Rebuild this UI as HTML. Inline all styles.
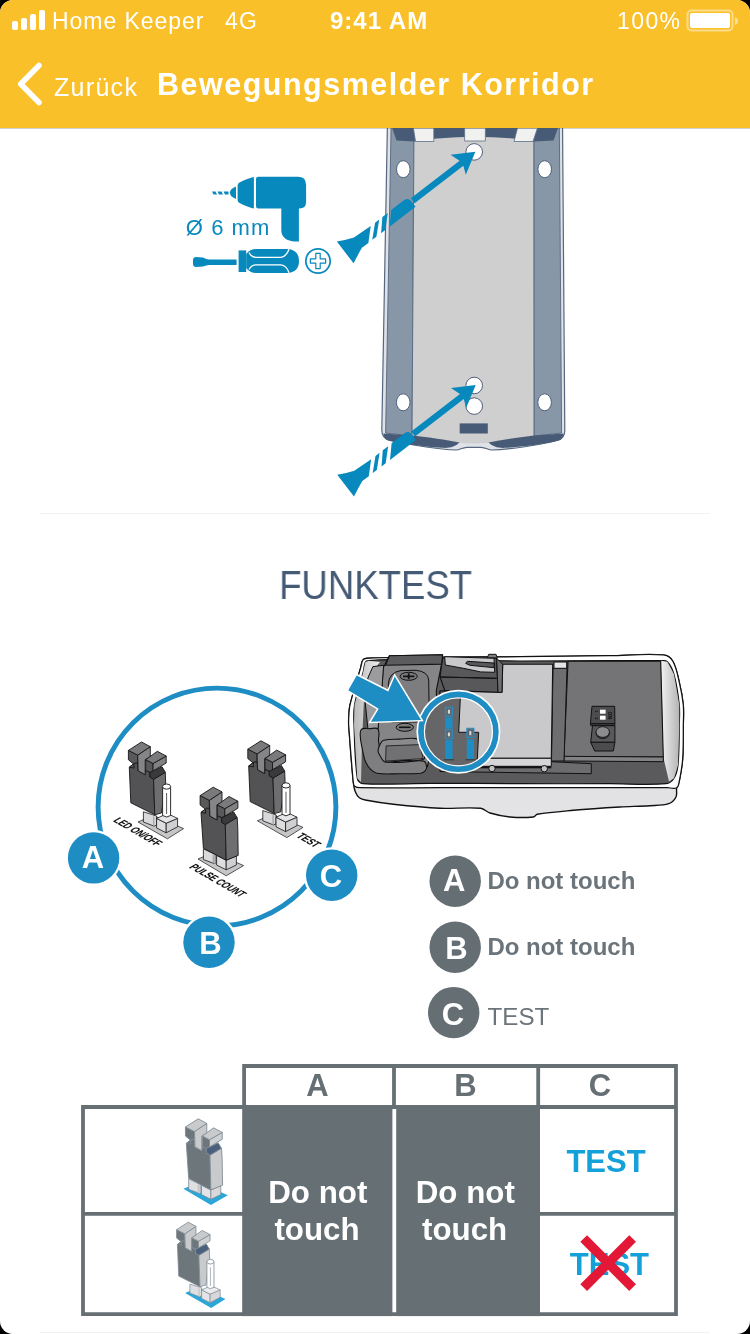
<!DOCTYPE html>
<html lang="de">
<head>
<meta charset="utf-8">
<title>Bewegungsmelder Korridor</title>
<style>
*{box-sizing:border-box;margin:0;padding:0}
html,body{width:750px;height:1334px;overflow:hidden;background:#000}
body{font-family:"Liberation Sans",sans-serif;position:relative}
#screen{position:absolute;left:0;top:0;width:750px;height:1334px;background:#fff;border-radius:13px;overflow:hidden}
#hdr{position:absolute;left:0;top:0;width:750px;height:128px;background:#fac02a;box-shadow:0 .5px 0 rgba(90,90,90,.55);z-index:5}
.t{position:absolute;white-space:nowrap;line-height:1;color:#fff;will-change:transform}
#art{position:absolute;left:0;top:0;width:750px;height:1334px;z-index:1;will-change:transform}
#hart{position:absolute;left:0;top:0;width:750px;height:128px;z-index:6}
svg text{font-family:"Liberation Sans",sans-serif}
#div1{position:absolute;left:40px;top:513px;width:670px;height:1px;background:#f1f1f1}
#div2{position:absolute;left:40px;top:1332px;width:670px;height:1px;background:#f1f1f1}
#funk{will-change:transform;position:absolute;left:0;width:750px;text-align:center;top:565px;font-size:40px;line-height:1;color:#455a75;white-space:nowrap;transform:translateX(.6px) scaleX(.914);transform-origin:375px 0}
</style>
</head>
<body>
<div id="screen">
<div id="hdr">
  <span class="t" id="carrier" style="left:51.5px;top:10px;font-size:23px;letter-spacing:.95px">Home Keeper</span>
  <span class="t" id="net" style="left:224.5px;top:10px;font-size:23px;letter-spacing:1.2px">4G</span>
  <span class="t" id="clock" style="left:330px;top:9px;font-size:24px;font-weight:bold;letter-spacing:1px">9:41 AM</span>
  <span class="t" id="batt" style="left:617px;top:10px;font-size:23px;letter-spacing:1.4px">100%</span>
  <span class="t" id="back" style="left:54px;top:75px;font-size:25px;letter-spacing:1.3px">Zurück</span>
  <span class="t" id="title" style="left:157px;top:69px;font-size:30.5px;font-weight:bold;letter-spacing:1.5px">Bewegungsmelder Korridor</span>
</div>
<svg id="hart" viewBox="0 0 750 128">
  <g fill="#fff">
    <rect x="12" y="21" width="6" height="9" rx="2"/>
    <rect x="21" y="18" width="6" height="12" rx="2"/>
    <rect x="30" y="14" width="6" height="16" rx="2"/>
    <rect x="39" y="10" width="6" height="20" rx="2"/>
  </g>
  <rect x="687.5" y="10.500" width="45" height="20" rx="4" fill="none" stroke="#fff" stroke-opacity=".45" stroke-width="2"/>
  <rect x="690" y="13" width="40" height="15" rx="2" fill="#fff"/>
  <path d="M735 17 q3 1 3 4 q0 3 -3 4z" fill="#fff" fill-opacity=".5"/>
  <path d="M39 65.5 L20.700 84 L39 102.5" fill="none" stroke="#fff" stroke-width="5.5" stroke-linecap="round" stroke-linejoin="round"/>
</svg>
<div id="div1"></div>
<div id="funk">FUNKTEST</div>
<div id="div2"></div>
<svg id="art" viewBox="0 0 750 1334">
<!-- mounting plate -->
<g id="plate">
  <path d="M387.500 120 L381.800 430 Q381.800 438.500 390 440.500 C410 445 440 449.500 456 450 C460 450 462 447.500 467 447.300 L481 447.300 C486 447.500 488 450 492 450 C510 449.500 540 445 557 440.500 Q565 438.500 564.800 430 L562.500 120 Z" fill="#dfe2e6" stroke="#56677f" stroke-width="1.200"/>
  <path d="M391.200 120 L385.600 433 L412 436 L414 120 Z" fill="#8797a8" stroke="#56677f" stroke-width=".9"/>
  <path d="M559.300 120 L561.600 433 L534 436 L533.800 120 Z" fill="#8797a8" stroke="#56677f" stroke-width=".9"/>
  <path d="M414 120 L412 437 C430 440 450 443 474 443.500 C500 443 520 440 534 437 L533.800 120 Z" fill="#cfcfcf"/>
  <path d="M414 128 L412 436" stroke="#5d6e86" stroke-width="1" fill="none"/>
  <path d="M533.800 128 L534 436" stroke="#5d6e86" stroke-width="1" fill="none"/>
  <!-- top dark band -->
  <path d="M391.500 126 L558.700 126 L553.500 140.500 L534 141.500 C520 138.500 500 137 474 137 C450 137 430 138.500 414 141.500 L396.500 140.500 Z" fill="#475b77"/>
  <path d="M413.400 128 L433.800 128 L433.800 141.500 L415.500 141.500 Z" fill="#f1f1ef" stroke="#5d6e86" stroke-width=".8"/>
  <path d="M464.600 128 L485.400 128 L485.400 141 L464.600 141 Z" fill="#f1f1ef" stroke="#5d6e86" stroke-width=".8"/>
  <path d="M517.500 128 L537.500 128 L533 141.500 L514 141.500 Z" fill="#f1f1ef" stroke="#5d6e86" stroke-width=".8"/>
  <!-- bottom dark band -->
  <path d="M383.300 433.500 L412 435.500 C430 437.500 445 439.500 459.500 442.500 C455 446.800 450 448.300 442 447.800 C420 446.300 400 443.500 388 440.300 Q383.800 439 383.300 433.500 Z" fill="#475b77"/>
  <path d="M563.700 433.500 L534 435.500 C518 437.500 503 439.500 488.500 442.500 C493 446.800 498 448.300 506 447.800 C528 446.300 548 443.500 559 440.300 Q563.200 439 563.700 433.500 Z" fill="#475b77"/>
  <rect x="459.700" y="423.400" width="28.100" height="10.100" fill="#475b77"/>
  <!-- holes -->
  <g fill="#fff" stroke="#4f6079" stroke-width="1">
    <circle cx="474.200" cy="151.900" r="8.300"/>
    <ellipse cx="403.300" cy="169.200" rx="6.800" ry="8.500"/>
    <ellipse cx="544.700" cy="169.200" rx="6.800" ry="8.500"/>
    <circle cx="474.200" cy="406.100" r="8.300"/>
    <circle cx="474.200" cy="385.500" r="8.300"/>
    <ellipse cx="403.200" cy="402.300" rx="6.800" ry="8.500"/>
    <ellipse cx="544.600" cy="402.300" rx="6.800" ry="8.500"/>
  </g>
</g>
<!-- screws with arrows -->

<g fill="#0889bd" transform="translate(345.200 252.400) rotate(-37.600)">
    <path d="M0 -13.700 Q9 -9 16 -6.500 L36.300 -5.300 L24.100 6.700 L16 6.600 Q9 9.500 0 13.700 Z"/>
    <path d="M41.800 -5.300 L47 -5.300 L34.300 6.600 L29.100 6.600 Z"/>
    <path d="M51 -5.300 L57.800 -5.300 L45.400 6.800 L40.100 6.800 Z"/>
    <path d="M62.300 -5.500 L78.600 -5.500 Q83.500 -5 83.500 -1 L83.500 6.800 L50.800 6.800 Z"/>
    <path d="M85 -2.800 L146.500 -2.800 L143 -13 L164.500 -0.300 L143 12 L146.500 3.400 L85 3.400 Z"/>
    </g>
<g fill="#0889bd" transform="translate(345.600 485.600) rotate(-37.600)">
    <path d="M0 -13.700 Q9 -9 16 -6.500 L36.300 -5.300 L24.100 6.700 L16 6.600 Q9 9.500 0 13.700 Z"/>
    <path d="M41.800 -5.300 L47 -5.300 L34.300 6.600 L29.100 6.600 Z"/>
    <path d="M51 -5.300 L57.800 -5.300 L45.400 6.800 L40.100 6.800 Z"/>
    <path d="M62.300 -5.500 L78.600 -5.500 Q83.500 -5 83.500 -1 L83.500 6.800 L50.800 6.800 Z"/>
    <path d="M85 -2.800 L146.500 -2.800 L143 -13 L164.500 -0.300 L143 12 L146.500 3.400 L85 3.400 Z"/>
    </g>
<!-- drill + screwdriver -->
<g id="tools" fill="#0889bd">
  <path d="M256 179 Q256 176.700 258.300 176.700 L298 176.700 Q306.100 176.700 306.100 185 L306.100 202 Q306.100 208.500 299.500 208.500 L298.900 208.500 L298.900 241.600 L295 241.600 C287 241 281.300 237.500 281.300 230 L281.300 208.500 L258.300 208.500 Q256 208.500 256 206.200 Z"/>
  <path d="M253.900 177 L253.900 208.500 C248 207 242 204.500 239.500 203 Q237.600 202 237.600 200 L237.600 185.500 Q237.600 183.500 239.500 182.500 C242 181 248 178.500 253.900 177 Z"/>
  <path d="M236 186.600 L236 198.900 C232.500 197.500 229.900 195.500 229.900 192.700 C229.900 190 232.500 188 236 186.600 Z"/>
  <path d="M212 191.400 L215.500 191.400 L217 194.600 L213.500 194.600 Z M217.500 191.400 L221.500 191.400 L223 194.600 L219 194.600 Z M223.500 191.400 L228.500 191.400 L228.500 194.600 L225 194.600 Z"/>
  <path d="M193 260 Q193 257.300 196 257 L203 257.500 Q206.500 259.400 209 259.400 L236.600 259.400 L236.600 265 L209 265 Q206.500 265 203 266.600 L196 267 Q193 266.700 193 264 Z"/>
  <rect x="238.600" y="250.400" width="7.600" height="21.600"/>
  <path d="M246.200 254 Q250 249 256 249 L287 249 Q299 249.500 299 261 Q299 272.500 287 273 L256 273 Q250 273 246.200 268 Z"/>
  <path d="M249 252.500 Q251.500 257.300 256 257.300 L281 257.300 Q286.500 256.500 289 249.300" fill="none" stroke="#fff" stroke-width="1.300"/>
  <path d="M249 269.500 Q251.500 264.900 256 264.900 L281 264.900 Q286.500 265.500 289 272.700" fill="none" stroke="#fff" stroke-width="1.300"/>
  <circle cx="318" cy="261" r="12.200" fill="none" stroke="#0889bd" stroke-width="1.700"/>
  <path d="M315.800 253.400 H320.200 V258.800 H325.600 V263.200 H320.200 V268.600 H315.800 V263.200 H310.400 V258.800 H315.800 Z" fill="none" stroke="#0889bd" stroke-width="1.200" stroke-linejoin="round"/>
</g>
<text id="dia" x="185.800" y="235" font-size="22" fill="#0889bd" textLength="83.500" lengthAdjust="spacing">Ø 6 mm</text>
<!-- sensor device -->
<defs><linearGradient id="gw" x1="0" x2="1" y1="0" y2="0"><stop offset="0" stop-color="#f2f2f2"/><stop offset="1" stop-color="#b4b4b4"/></linearGradient>
<linearGradient id="gw2" x1="0" x2="1" y1="0" y2="0"><stop offset="0" stop-color="#b9b9b9"/><stop offset="1" stop-color="#ededed"/></linearGradient>
<linearGradient id="gf" x1="0" x2="0" y1="0" y2="1"><stop offset="0" stop-color="#d6d6d8"/><stop offset="1" stop-color="#e4e4e6"/></linearGradient>
<clipPath id="lens"><circle cx="458.400" cy="731.800" r="37"/></clipPath></defs>
<g id="device">
<path d="M390.0 657.7 C382.3 657.8 374.4 657.6 366.7 658.3 C365.3 658.4 363.6 658.8 362.9 660.0 C361.5 662.2 361.4 665.2 360.7 667.7 C357.2 680.0 353.0 692.5 350.0 705.0 C349.0 709.3 349.0 713.9 348.7 718.3 C348.6 720.5 348.5 722.8 348.7 725.0 C350.1 743.9 351.4 763.4 353.3 782.3 C353.6 785.5 354.1 788.7 355.3 791.7 C356.2 793.9 357.4 796.3 359.3 797.7 C361.4 799.3 364.2 799.8 366.7 800.3 C375.4 802.0 384.5 803.3 393.3 804.3 C408.7 806.0 424.5 807.6 440.0 808.3 C453.4 808.9 467.3 807.0 480.7 808.3 C484.1 808.6 486.7 812.0 490.0 813.0 C496.5 814.9 503.3 816.4 510.0 817.0 C517.7 817.7 525.6 817.8 533.3 817.0 C534.9 816.8 535.7 814.6 537.3 814.3 C549.1 812.3 561.4 811.4 573.3 810.3 C588.7 808.9 604.6 807.9 620.0 807.0 C629.9 806.4 640.1 806.4 650.0 805.7 C656.2 805.3 662.8 805.7 668.7 803.7 C671.8 802.7 674.5 799.9 676.0 797.0 C677.4 794.2 676.1 790.7 676.7 787.7 C677.2 785.4 678.8 783.3 679.3 781.0 C680.8 773.6 682.2 765.9 682.7 758.3 C683.5 747.3 683.2 736.0 683.3 725.0 C683.4 718.4 683.9 711.6 683.3 705.0 C682.6 697.4 681.1 689.7 679.3 682.3 C677.6 675.1 676.4 667.3 672.7 661.0 C670.8 657.8 667.0 655.3 663.3 655.0 C645.8 653.5 627.6 655.5 610.0 655.7 C580.3 656.1 549.7 656.4 520.0 656.7 C477.1 657.1 432.9 657.3 390.0 657.7 Z" fill="url(#gf)" stroke="#111" stroke-width="1.4" stroke-linejoin="round"/>
<path d="M390.0 657.7 C382.3 657.8 374.4 657.6 366.7 658.3 C365.3 658.4 363.6 658.8 362.9 660.0 C361.5 662.2 361.4 665.2 360.7 667.7 C357.2 680.0 353.0 692.5 350.0 705.0 C349.0 709.3 349.0 713.9 348.7 718.3 C348.6 720.5 348.5 722.8 348.7 725.0 C350.1 743.9 351.5 763.4 353.3 782.3 C353.4 783.7 353.6 785.4 354.7 786.3 C356.1 787.4 358.2 787.7 360.0 787.7 C386.4 788.1 413.6 787.7 440.0 787.7 C515.0 787.7 592.3 787.7 667.3 787.7 C670.4 787.7 674.0 789.2 676.7 787.7 C678.8 786.5 678.8 783.3 679.3 781.0 C680.8 773.6 682.2 765.9 682.7 758.3 C683.5 747.3 683.2 736.0 683.3 725.0 C683.4 718.4 683.9 711.6 683.3 705.0 C682.6 697.4 681.1 689.7 679.3 682.3 C677.6 675.1 676.4 667.3 672.7 661.0 C670.8 657.8 667.0 655.3 663.3 655.0 C645.8 653.5 627.6 655.5 610.0 655.7 C580.3 656.1 549.7 656.4 520.0 656.7 C477.1 657.1 432.9 657.3 390.0 657.7 Z" fill="#fff" stroke="#111" stroke-width="1.2" stroke-linejoin="round"/>
<path d="M389.3 659.7 C382.5 659.7 375.5 660.0 368.7 660.7 C367.5 660.8 365.8 661.2 365.3 662.3 C363.9 665.1 364.1 668.6 363.3 671.7 C360.5 682.7 356.5 693.8 354.5 705.0 C353.4 711.5 353.7 718.4 354.0 725.0 C354.7 742.6 354.7 760.9 357.3 778.3 C357.7 780.8 360.2 783.5 362.7 783.7 C384.9 785.2 407.8 783.3 430.0 783.3 C459.7 783.3 490.3 783.6 520.0 783.7 C549.7 783.8 580.3 783.7 610.0 783.7 C628.5 783.7 647.6 785.3 666.0 783.7 C669.2 783.4 672.3 781.0 674.0 778.3 C676.5 774.4 677.5 769.6 678.0 765.0 C679.3 751.9 679.0 738.2 679.3 725.0 C679.4 718.4 680.0 711.6 679.3 705.0 C678.2 694.8 676.7 684.2 674.0 674.3 C672.7 669.8 670.6 665.1 667.3 661.7 C665.8 660.1 662.9 660.7 660.7 660.7 C644.0 660.4 626.7 660.7 610.0 660.7 C580.3 660.8 549.7 661.1 520.0 661.0 C476.9 660.8 432.4 659.8 389.3 659.7 Z" fill="#5a5a5c" stroke="#111" stroke-width="1.2" stroke-linejoin="round"/>
<path d="M660.7 660.7 L667.3 661.7 L674.0 674.3 L679.3 705.0 L679.3 725.0 L678.0 765.0 L674.0 778.3 L669.0 781.5 L663.3 757.0 L662.0 700.0 Z" fill="url(#gw)"/>
<path d="M368.7 660.7 L365.3 662.3 L363.3 671.7 L354.5 705.0 L354.0 725.0 L357.3 778.3 L361.0 782.0 L362.0 740.0 L364.0 700.0 L372.0 672.0 L380.0 662.0 Z" fill="url(#gw2)"/>
<path d="M568.0 661.3 L660.7 661.0 L663.3 757.0 L564.0 756.3 Z" fill="#747476" stroke="#111" stroke-width="1.1" stroke-linejoin="round"/>
<path d="M564.0 756.3 L663.3 757.0 L663.3 761.7 L564.0 761.0 Z" fill="#828284" stroke="#111" stroke-width="1" stroke-linejoin="round"/>
<path d="M551.3 761.7 L591.3 763.7 L591.3 773.7 L440.0 771.5 L440.0 767.0 Z" fill="#6c6c6e" stroke="#111" stroke-width="1" stroke-linejoin="round"/>
<path d="M553.0 668.3 L567.0 668.3 L564.0 761.0 L551.5 761.0 Z" fill="#6e6e70" stroke="#111" stroke-width="1" stroke-linejoin="round"/>
<path d="M554.0 662.0 L566.7 662.0 L566.7 668.3 L554.0 668.3 Z" fill="#e4e4e4" stroke="#111" stroke-width="1" stroke-linejoin="round"/>
<path d="M502.7 664.3 L552.7 664.3 L551.3 758.3 L440.0 758.3 L440.0 691.0 L502.0 692.3 Z" fill="#c9c9cb" stroke="#111" stroke-width="1.1" stroke-linejoin="round"/>
<path d="M440.0 758.3 L551.3 758.3 L551.3 766.3 L440.0 766.3 Z" fill="#d6d6d8" stroke="#111" stroke-width="1" stroke-linejoin="round"/>
<rect x="440" y="766.300" width="111.300" height="2" fill="#111"/>
<circle cx="492" cy="768.500" r="3.200" fill="#c4c4c4" stroke="#111" stroke-width="1"/>
<circle cx="544.300" cy="768.700" r="3.200" fill="#c4c4c4" stroke="#111" stroke-width="1"/>
<path d="M440.0 691.0 L460.7 691.0 L458.7 732.3 L478.7 732.3 L478.7 758.3 L440.0 758.3 Z" fill="#626264" stroke="#111" stroke-width="1" stroke-linejoin="round"/>
<path d="M389.4 655.7 L442.6 654.7 L441.3 665.3 L436.3 690.7 L437.5 723.6 L427.4 766.7 L384.3 766.7 L378.0 748.9 L378.0 728.7 L381.8 690.7 L383.1 667.9 Z" fill="#858587" stroke="#111" stroke-width="1.1" stroke-linejoin="round"/>
<path d="M389.4 655.7 L442.6 654.7 L441.8 664.1 L385.6 665.3 Z" fill="#5c5c5e" stroke="#111" stroke-width="1.1" stroke-linejoin="round"/>
<path d="M372.9 666.6 L383.6 665.3 L381.8 690.7 L378.0 728.7 L367.9 728.7 L365.3 703.3 L367.9 678.0 Z" fill="#9c9c9e" stroke="#111" stroke-width="1" stroke-linejoin="round"/>
<path d="M391.300 722 L388.300 684 Q389 672.500 401 670.500 L416 670.300 Q428 671.500 428.700 680 L429.300 722 Z" fill="#7d7d7f" stroke="#111" stroke-width="1"/>
<ellipse cx="408.700" cy="676.300" rx="8.600" ry="4" fill="#7a7a7c" stroke="#111" stroke-width="1"/>
<path d="M403 676.300 H414.400 M408.700 673.300 V679.300" stroke="#111" stroke-width="1.800" fill="none"/>
<ellipse cx="404.800" cy="727.300" rx="8.600" ry="4" fill="#7a7a7c" stroke="#111" stroke-width="1"/>
<path d="M399 727.300 H410.600" stroke="#111" stroke-width="1.600" fill="none"/>
<path d="M361.5 729.2 C363.7 727.5 367.1 728.7 369.9 728.7 C372.6 728.7 376.5 727.0 378.0 729.2 C380.3 732.5 378.1 737.4 378.5 741.3 C378.9 744.7 379.5 748.2 380.5 751.5 C381.6 754.8 381.9 759.6 385.1 761.1 C390.6 763.7 397.3 762.1 403.3 762.1 C410.0 762.1 417.0 759.8 423.6 761.1 C425.7 761.5 426.4 764.6 426.6 766.7 C426.8 768.3 426.0 770.1 424.9 771.2 C423.8 772.4 422.1 773.1 420.6 773.3 C413.2 774.0 405.6 773.8 398.3 773.8 C391.2 773.8 383.8 774.4 376.7 773.3 C374.3 772.9 372.1 771.0 370.4 769.2 C368.2 766.9 366.5 764.0 365.3 761.1 C363.8 757.3 363.1 753.0 362.3 748.9 C361.4 744.8 360.4 740.5 360.3 736.3 C360.2 733.9 359.7 730.7 361.5 729.2 Z" fill="#7e7e80" stroke="#111" stroke-width="1.1" stroke-linejoin="round"/>
<path d="M383.6 740.3 C388.7 738.9 394.3 739.4 399.5 739.1 C405.0 738.8 410.7 737.6 416.0 738.6 C418.2 738.9 420.0 740.9 421.1 742.9 C422.4 745.4 422.4 748.6 422.8 751.5 C423.3 754.0 426.2 758.0 423.9 759.1 C417.7 762.0 410.1 760.1 403.3 760.6 C397.2 761.0 390.9 762.9 384.8 761.9 C382.6 761.5 381.7 758.5 380.5 756.5 C379.5 754.8 378.1 753.0 378.0 751.0 C377.9 748.7 379.0 746.4 380.0 744.4 C380.9 742.8 381.9 740.8 383.6 740.3 Z" fill="#8a8a8c" stroke="#111" stroke-width="1.1" stroke-linejoin="round"/>
<path d="M386.1 745.9 L420.1 744.6 L423.1 758.6 L385.6 761.1 Z" fill="#717173" stroke="#111" stroke-width="0.8" stroke-linejoin="round"/>
<path d="M442.7 657.7 L496.7 658.3 L498.0 692.3 L444.7 690.3 L440.0 677.0 Z" fill="#58585a" stroke="#111" stroke-width="1.1" stroke-linejoin="round"/>
<path d="M440.0 677.0 L496.7 678.3 Z" fill="none" stroke="#111" stroke-width="1" stroke-linejoin="round"/>
<path d="M496.7 658.3 L502.7 664.3 L502.0 692.3 L498.0 692.3 Z" fill="#6e6e70" stroke="#111" stroke-width="1" stroke-linejoin="round"/>
<path d="M487.3 657.9 L488.7 654.3 L496.0 654.3 L497.3 657.9 Z" fill="#7c7c7e" stroke="#111" stroke-width="1" stroke-linejoin="round"/>
<path d="M444.7 656.7 L494.0 658.3 L494.7 672.3 L480.7 671.9 L463.3 668.3 L445.3 665.0 Z" fill="#c9c9cb" stroke="#111" stroke-width="1" stroke-linejoin="round"/>
<path d="M467.3 661.3 L494.0 663.0 L494.3 667.7 L470.0 665.3 L465.7 663.4 Z" fill="#58585a" stroke="#111" stroke-width="1" stroke-linejoin="round"/>
<path d="M592.0 706.3 L614.7 706.3 L614.9 723.7 L590.4 723.7 Z" fill="#4c4c4e" stroke="#111" stroke-width="1" stroke-linejoin="round"/>
<path d="M590.4 723.7 L614.9 723.7 L614.9 725.7 L590.7 725.7 Z" fill="#3c3c3e" stroke="#111" stroke-width="0.8" stroke-linejoin="round"/>
<rect x="600" y="709.700" width="5.600" height="4" fill="#fff"/><rect x="600" y="715.700" width="5.600" height="4" fill="#fff"/>
<text x="0" y="0" font-size="4.900" font-weight="bold" fill="#111" transform="translate(608.200 711.600) rotate(90)">ON</text>
<text x="0" y="0" font-size="3.800" font-weight="bold" fill="#111" transform="translate(594.700 710.300) rotate(90)">1</text>
<text x="0" y="0" font-size="3.800" font-weight="bold" fill="#111" transform="translate(594.700 717.200) rotate(90)">2</text>
<path d="M592.5 725.7 L614.9 725.7 L614.9 742.3 L590.7 742.3 Z" fill="#58585a" stroke="#111" stroke-width="1" stroke-linejoin="round"/>
<path d="M590.7 742.3 L614.9 742.3 L613.3 751.0 L594.7 751.0 Z" fill="#4c4c4e" stroke="#111" stroke-width="1" stroke-linejoin="round"/>
<ellipse cx="602.700" cy="733.300" rx="6.700" ry="5.300" fill="#3e3e40" stroke="#111" stroke-width=".8"/>
<ellipse cx="602.700" cy="732" rx="6.700" ry="5.300" fill="#8c8c8e" stroke="#111" stroke-width=".8"/>
<circle cx="458.400" cy="731.800" r="42" fill="#fff"/>
<g clip-path="url(#lens)">
<rect x="415" y="690" width="90" height="85" fill="#666668"/>
<path d="M460.7 690.0 L505.0 690.0 L505.0 775.0 L476.5 775.0 L478.7 732.3 L458.7 732.3 Z" fill="#c9c9cb" stroke="#111" stroke-width="1" stroke-linejoin="round"/>
<rect x="415" y="690" width="9" height="85" fill="#747476"/>
<rect x="445.3" y="707" width="7.200" height="9.0" fill="#5a6e7c" stroke="#2a8fc2" stroke-width=".9"/>
<rect x="447.5" y="709.3" width="2.800" height="4.7" fill="#d8d8d8" stroke="#444" stroke-width=".5"/>
<rect x="445.3" y="729.8" width="7.200" height="9.0" fill="#5a6e7c" stroke="#2a8fc2" stroke-width=".9"/>
<rect x="447.5" y="732.0999999999999" width="2.800" height="4.7" fill="#d8d8d8" stroke="#444" stroke-width=".5"/>
<rect x="466.8" y="728.2" width="7.200" height="9.4" fill="#5a6e7c" stroke="#2a8fc2" stroke-width=".9"/>
<rect x="469.0" y="730.5" width="2.800" height="5.1" fill="#d8d8d8" stroke="#444" stroke-width=".5"/>
<rect x="445.3" y="717.3" width="7.200" height="11.4" fill="#1d8dc3"/>
<rect x="445.3" y="740" width="7.200" height="19.0" fill="#1d8dc3"/>
<rect x="466.8" y="739.3" width="7.200" height="19.7" fill="#1d8dc3"/>
<rect x="444" y="759" width="10" height="1.500" fill="#444"/><rect x="465.500" y="759" width="10" height="1.500" fill="#444"/>
</g>
<circle cx="458.400" cy="731.800" r="37.400" fill="none" stroke="#1d8dc3" stroke-width="5.800"/>
<circle cx="458.400" cy="731.800" r="34" fill="none" stroke="#fff" stroke-width="1.200"/>
<path d="M356.7 675.4 L388.3 691.4 L394.7 676.6 L421.1 719.9 L370.9 721.7 L378.7 708.7 L348.3 690.3 Z" fill="#1d8dc3" stroke="#fff" stroke-width="3" stroke-linejoin="miter" paint-order="stroke"/>
</g>
<!-- jumper detail circle -->
<g id="jumpers">
<circle cx="217" cy="807" r="118.900" fill="#fff" stroke="#1d8dc3" stroke-width="4.900"/>
<path d="M138.0 822.0 L153.0 815.4 L183.6 828.6 L167.4 838.8 Z" fill="#c6c6c8" stroke="#161616" stroke-width="0.7" stroke-linejoin="round"/>
<path d="M143.4 811.8 L143.4 822.0 L154.2 826.2 L156.6 825.0 L156.6 816.0 Z" fill="#d9d9db" stroke="#161616" stroke-width="0.8" stroke-linejoin="round"/>
<path d="M153.0 816.0 L153.0 825.6 L154.4 826.1 L154.4 816.7 Z" fill="#a8a8aa"/>
<path d="M129.3 767.2 L134.9 763.0 L137.7 763.0 L138.2 770.9 L145.2 774.7 L145.7 770.5 L149.9 772.3 L149.9 777.0 L153.6 779.3 L154.8 814.8 L130.8 802.8 Z" fill="#535355" stroke="#161616" stroke-width="0.9" stroke-linejoin="round"/>
<path d="M153.6 779.3 L165.3 772.3 L165.7 783.5 L161.4 813.0 L154.8 814.8 Z" fill="#6e6e70" stroke="#161616" stroke-width="0.9" stroke-linejoin="round"/>
<path d="M149.9 772.3 L153.1 770.9 L162.0 766.7 L165.3 772.3 L153.6 779.3 L149.9 777.0 Z" fill="#3a3a3c" stroke="#161616" stroke-width="0.9" stroke-linejoin="round"/>
<path d="M128.4 750.4 L137.7 755.1 L137.7 763.0 L134.9 763.0 L129.3 767.2 L134.0 768.1 L134.0 764.4 L128.4 759.7 Z" fill="#59595b" stroke="#161616" stroke-width="0.9" stroke-linejoin="round"/>
<path d="M137.7 755.1 L150.3 746.7 L150.3 756.9 L145.2 759.7 L145.2 774.7 L138.2 770.9 Z" fill="#858587" stroke="#161616" stroke-width="0.9" stroke-linejoin="round"/>
<path d="M128.4 750.4 L141.5 742.0 L150.3 746.7 L137.7 755.1 Z" fill="#7a7a7c" stroke="#161616" stroke-width="0.9" stroke-linejoin="round"/>
<path d="M145.7 759.7 L153.1 763.5 L153.1 770.9 L149.9 772.3 L145.7 770.5 Z" fill="#59595b" stroke="#161616" stroke-width="0.9" stroke-linejoin="round"/>
<path d="M153.1 763.5 L166.2 756.0 L166.2 763.0 L153.1 770.9 Z" fill="#818183" stroke="#161616" stroke-width="0.9" stroke-linejoin="round"/>
<path d="M145.7 759.7 L157.3 751.3 L166.2 756.0 L153.1 763.5 Z" fill="#7a7a7c" stroke="#161616" stroke-width="0.9" stroke-linejoin="round"/>
<path d="M156.6 818.4 L166.2 823.2 L166.2 832.8 L156.6 828.0 Z" fill="#dededf" stroke="#161616" stroke-width="0.8" stroke-linejoin="round"/>
<path d="M166.2 823.2 L177.6 818.4 L177.6 826.8 L166.2 832.8 Z" fill="#d0d0d2" stroke="#161616" stroke-width="0.8" stroke-linejoin="round"/>
<path d="M156.6 818.4 L167.4 813.6 L177.6 818.4 L166.2 823.2 Z" fill="#e6e6e8" stroke="#161616" stroke-width="0.8" stroke-linejoin="round"/>
<path d="M162.6 786.6 L162.6 815.5 Q166.6 818.5 170.6 815.5 L170.6 786.6 Z" fill="#fff" stroke="#161616" stroke-width=".9"/>
<ellipse cx="166.6" cy="786.6" rx="4" ry="2.600" fill="#fff" stroke="#161616" stroke-width=".9"/>
<path d="M166.6 793.0 V814.0" stroke="#161616" stroke-width=".7"/>
<path d="M257.4 820.8 L272.4 814.2 L303.0 827.4 L286.8 837.6 Z" fill="#c6c6c8" stroke="#161616" stroke-width="0.7" stroke-linejoin="round"/>
<path d="M262.8 810.6 L262.8 820.8 L273.6 825.0 L276.0 823.8 L276.0 814.8 Z" fill="#d9d9db" stroke="#161616" stroke-width="0.8" stroke-linejoin="round"/>
<path d="M272.4 814.8 L272.4 824.4 L273.8 824.9 L273.8 815.5 Z" fill="#a8a8aa"/>
<path d="M248.7 766.0 L254.3 761.8 L257.1 761.8 L257.6 769.7 L264.6 773.5 L265.1 769.3 L269.3 771.1 L269.3 775.8 L273.0 778.1 L274.2 813.6 L250.2 801.6 Z" fill="#535355" stroke="#161616" stroke-width="0.9" stroke-linejoin="round"/>
<path d="M273.0 778.1 L284.7 771.1 L285.1 782.3 L280.8 811.8 L274.2 813.6 Z" fill="#6e6e70" stroke="#161616" stroke-width="0.9" stroke-linejoin="round"/>
<path d="M269.3 771.1 L272.5 769.7 L281.4 765.5 L284.7 771.1 L273.0 778.1 L269.3 775.8 Z" fill="#3a3a3c" stroke="#161616" stroke-width="0.9" stroke-linejoin="round"/>
<path d="M247.8 749.2 L257.1 753.9 L257.1 761.8 L254.3 761.8 L248.7 766.0 L253.4 766.9 L253.4 763.2 L247.8 758.5 Z" fill="#59595b" stroke="#161616" stroke-width="0.9" stroke-linejoin="round"/>
<path d="M257.1 753.9 L269.7 745.5 L269.7 755.7 L264.6 758.5 L264.6 773.5 L257.6 769.7 Z" fill="#858587" stroke="#161616" stroke-width="0.9" stroke-linejoin="round"/>
<path d="M247.8 749.2 L260.9 740.8 L269.7 745.5 L257.1 753.9 Z" fill="#7a7a7c" stroke="#161616" stroke-width="0.9" stroke-linejoin="round"/>
<path d="M265.1 758.5 L272.5 762.3 L272.5 769.7 L269.3 771.1 L265.1 769.3 Z" fill="#59595b" stroke="#161616" stroke-width="0.9" stroke-linejoin="round"/>
<path d="M272.5 762.3 L285.6 754.8 L285.6 761.8 L272.5 769.7 Z" fill="#818183" stroke="#161616" stroke-width="0.9" stroke-linejoin="round"/>
<path d="M265.1 758.5 L276.7 750.1 L285.6 754.8 L272.5 762.3 Z" fill="#7a7a7c" stroke="#161616" stroke-width="0.9" stroke-linejoin="round"/>
<path d="M276.0 817.2 L285.6 822.0 L285.6 831.6 L276.0 826.8 Z" fill="#dededf" stroke="#161616" stroke-width="0.8" stroke-linejoin="round"/>
<path d="M285.6 822.0 L297.0 817.2 L297.0 825.6 L285.6 831.6 Z" fill="#d0d0d2" stroke="#161616" stroke-width="0.8" stroke-linejoin="round"/>
<path d="M276.0 817.2 L286.8 812.4 L297.0 817.2 L285.6 822.0 Z" fill="#e6e6e8" stroke="#161616" stroke-width="0.8" stroke-linejoin="round"/>
<path d="M282.0 785.4 L282.0 814.3 Q286.0 817.3 290.0 814.3 L290.0 785.4 Z" fill="#fff" stroke="#161616" stroke-width=".9"/>
<ellipse cx="286.0" cy="785.4" rx="4" ry="2.600" fill="#fff" stroke="#161616" stroke-width=".9"/>
<path d="M286.0 791.8 V812.8" stroke="#161616" stroke-width=".7"/>
<path d="M198.0 859.0 L213.6 852.4 L243.6 865.6 L226.2 875.8 Z" fill="#c6c6c8" stroke="#161616" stroke-width="0.7" stroke-linejoin="round"/>
<path d="M203.4 848.8 L203.4 859.6 L214.8 863.8 L216.0 862.6 L216.0 854.8 Z" fill="#d9d9db" stroke="#161616" stroke-width="0.8" stroke-linejoin="round"/>
<path d="M212.6 854.2 L212.6 863.0 L214.8 863.8 L214.8 855.0 Z" fill="#a8a8aa"/>
<path d="M216.6 855.4 L226.2 860.2 L226.2 869.8 L216.6 865.0 Z" fill="#dededf" stroke="#161616" stroke-width="0.8" stroke-linejoin="round"/>
<path d="M226.2 860.2 L236.4 856.0 L236.4 865.0 L226.2 869.8 Z" fill="#d0d0d2" stroke="#161616" stroke-width="0.8" stroke-linejoin="round"/>
<path d="M201.0 812.4 L206.6 808.2 L209.4 808.2 L209.9 816.1 L216.9 819.9 L217.4 815.7 L221.6 817.5 L221.6 822.2 L225.3 824.5 L226.2 860.2 L203.4 848.2 Z" fill="#535355" stroke="#161616" stroke-width="0.9" stroke-linejoin="round"/>
<path d="M225.3 824.5 L237.2 817.5 L237.8 828.7 L238.2 855.4 L226.2 860.2 Z" fill="#6e6e70" stroke="#161616" stroke-width="0.9" stroke-linejoin="round"/>
<path d="M221.6 817.5 L224.8 816.1 L233.7 811.9 L237.0 817.5 L225.3 824.5 L221.6 822.2 Z" fill="#3a3a3c" stroke="#161616" stroke-width="0.9" stroke-linejoin="round"/>
<path d="M200.1 795.6 L209.4 800.3 L209.4 808.2 L206.6 808.2 L201.0 812.4 L205.7 813.3 L205.7 809.6 L200.1 804.9 Z" fill="#59595b" stroke="#161616" stroke-width="0.9" stroke-linejoin="round"/>
<path d="M209.4 800.3 L222.0 791.9 L222.0 802.1 L216.9 804.9 L216.9 819.9 L209.9 816.1 Z" fill="#858587" stroke="#161616" stroke-width="0.9" stroke-linejoin="round"/>
<path d="M200.1 795.6 L213.2 787.2 L222.0 791.9 L209.4 800.3 Z" fill="#7a7a7c" stroke="#161616" stroke-width="0.9" stroke-linejoin="round"/>
<path d="M217.4 804.9 L224.8 808.7 L224.8 816.1 L221.6 817.5 L217.4 815.7 Z" fill="#59595b" stroke="#161616" stroke-width="0.9" stroke-linejoin="round"/>
<path d="M224.8 808.7 L237.9 801.2 L237.9 808.2 L224.8 816.1 Z" fill="#818183" stroke="#161616" stroke-width="0.9" stroke-linejoin="round"/>
<path d="M217.4 804.9 L229.0 796.5 L237.9 801.2 L224.8 808.7 Z" fill="#7a7a7c" stroke="#161616" stroke-width="0.9" stroke-linejoin="round"/>
<text id="jl1" transform="matrix(0.606 0.350 -0.840 0.485 112.5 820.9)" font-size="12" font-weight="bold" fill="#0c0c0c" stroke="#0c0c0c" stroke-width="0.15">LED ON/OFF</text>
<text id="jl2" transform="matrix(0.606 0.350 -0.840 0.485 188.4 867.4)" font-size="12" font-weight="bold" fill="#0c0c0c" stroke="#0c0c0c" stroke-width="0.15">PULSE COUNT</text>
<text id="jl3" transform="matrix(0.632 0.365 -0.840 0.485 295.5 836.6)" font-size="12" font-weight="bold" fill="#0c0c0c" stroke="#0c0c0c" stroke-width="0.15">TEST</text>
<circle cx="93.6" cy="857.9" r="28" fill="#fff"/><circle cx="93.6" cy="857.9" r="25.700" fill="#1d8dc3"/>
<text id="bdA" x="93" y="868" font-size="31" font-weight="bold" fill="#fff" text-anchor="middle">A</text>
<circle cx="209" cy="942.3" r="28" fill="#fff"/><circle cx="209" cy="942.3" r="25.700" fill="#1d8dc3"/>
<text id="bdB" x="210.5" y="954.4" font-size="31" font-weight="bold" fill="#fff" text-anchor="middle">B</text>
<circle cx="331.7" cy="875.2" r="28" fill="#fff"/><circle cx="331.7" cy="875.2" r="25.700" fill="#1d8dc3"/>
<text id="bdC" x="330.9" y="887" font-size="31" font-weight="bold" fill="#fff" text-anchor="middle">C</text>
</g>
<g id="ticons">
<g transform="translate(198.2 1118.8) scale(.974) translate(-213.2 -787.2)">
<path d="M198.0 859.0 L213.6 852.4 L243.6 865.6 L226.2 875.8 Z" fill="#2ba6d9"/>
<path d="M203.4 848.8 L203.4 859.6 L214.8 863.8 L216.0 862.6 L216.0 854.8 Z" fill="#dedfe1" stroke="#7f8a94" stroke-width="0.8" stroke-linejoin="round"/>
<path d="M212.6 854.2 L212.6 863.0 L214.8 863.8 L214.8 855.0 Z" fill="#c4c6c8"/>
<path d="M216.6 855.4 L226.2 860.2 L226.2 869.8 L216.6 865.0 Z" fill="#e4e4e6" stroke="#7f8a94" stroke-width="0.8" stroke-linejoin="round"/>
<path d="M226.2 860.2 L236.4 856.0 L236.4 865.0 L226.2 869.8 Z" fill="#d8d8da" stroke="#7f8a94" stroke-width="0.8" stroke-linejoin="round"/>
<path d="M201.0 812.4 L206.6 808.2 L209.4 808.2 L209.9 816.1 L216.9 819.9 L217.4 815.7 L221.6 817.5 L221.6 822.2 L225.3 824.5 L226.2 860.2 L203.4 848.2 Z" fill="#6c767b" stroke="#7f8a94" stroke-width="0.9" stroke-linejoin="round"/>
<path d="M225.3 824.5 L237.2 817.5 L237.8 828.7 L238.2 855.4 L226.2 860.2 Z" fill="#c9cacc" stroke="#7f8a94" stroke-width="0.9" stroke-linejoin="round"/>
<path d="M221.6 817.5 L224.8 816.1 L233.7 811.9 L237.0 817.5 L225.3 824.5 L221.6 822.2 Z" fill="#4a607c" stroke="#7f8a94" stroke-width="0.9" stroke-linejoin="round"/>
<path d="M200.1 795.6 L209.4 800.3 L209.4 808.2 L206.6 808.2 L201.0 812.4 L205.7 813.3 L205.7 809.6 L200.1 804.9 Z" fill="#6c767b" stroke="#7f8a94" stroke-width="0.9" stroke-linejoin="round"/>
<path d="M209.4 800.3 L222.0 791.9 L222.0 802.1 L216.9 804.9 L216.9 819.9 L209.9 816.1 Z" fill="#c9cacc" stroke="#7f8a94" stroke-width="0.9" stroke-linejoin="round"/>
<path d="M200.1 795.6 L213.2 787.2 L222.0 791.9 L209.4 800.3 Z" fill="#c9cacc" stroke="#7f8a94" stroke-width="0.9" stroke-linejoin="round"/>
<path d="M217.4 804.9 L224.8 808.7 L224.8 816.1 L221.6 817.5 L217.4 815.7 Z" fill="#6c767b" stroke="#7f8a94" stroke-width="0.9" stroke-linejoin="round"/>
<path d="M224.8 808.7 L237.9 801.2 L237.9 808.2 L224.8 816.1 Z" fill="#cfd0d2" stroke="#7f8a94" stroke-width="0.9" stroke-linejoin="round"/>
<path d="M217.4 804.9 L229.0 796.5 L237.9 801.2 L224.8 808.7 Z" fill="#c9cacc" stroke="#7f8a94" stroke-width="0.9" stroke-linejoin="round"/>
</g>
<g transform="translate(188.2 1222.2) scale(.886) translate(-141.5 -742)">
<path d="M138.0 822.0 L153.0 815.4 L183.6 828.6 L167.4 838.8 Z" fill="#2ba6d9"/>
<path d="M143.4 811.8 L143.4 822.0 L154.2 826.2 L156.6 825.0 L156.6 816.0 Z" fill="#dedfe1" stroke="#7f8a94" stroke-width="0.8" stroke-linejoin="round"/>
<path d="M153.0 816.0 L153.0 825.6 L154.4 826.1 L154.4 816.7 Z" fill="#c4c6c8"/>
<path d="M129.3 767.2 L134.9 763.0 L137.7 763.0 L138.2 770.9 L145.2 774.7 L145.7 770.5 L149.9 772.3 L149.9 777.0 L153.6 779.3 L154.8 814.8 L130.8 802.8 Z" fill="#6c767b" stroke="#7f8a94" stroke-width="0.9" stroke-linejoin="round"/>
<path d="M153.6 779.3 L165.3 772.3 L165.7 783.5 L161.4 813.0 L154.8 814.8 Z" fill="#c9cacc" stroke="#7f8a94" stroke-width="0.9" stroke-linejoin="round"/>
<path d="M149.9 772.3 L153.1 770.9 L162.0 766.7 L165.3 772.3 L153.6 779.3 L149.9 777.0 Z" fill="#4a607c" stroke="#7f8a94" stroke-width="0.9" stroke-linejoin="round"/>
<path d="M128.4 750.4 L137.7 755.1 L137.7 763.0 L134.9 763.0 L129.3 767.2 L134.0 768.1 L134.0 764.4 L128.4 759.7 Z" fill="#6c767b" stroke="#7f8a94" stroke-width="0.9" stroke-linejoin="round"/>
<path d="M137.7 755.1 L150.3 746.7 L150.3 756.9 L145.2 759.7 L145.2 774.7 L138.2 770.9 Z" fill="#c9cacc" stroke="#7f8a94" stroke-width="0.9" stroke-linejoin="round"/>
<path d="M128.4 750.4 L141.5 742.0 L150.3 746.7 L137.7 755.1 Z" fill="#c9cacc" stroke="#7f8a94" stroke-width="0.9" stroke-linejoin="round"/>
<path d="M145.7 759.7 L153.1 763.5 L153.1 770.9 L149.9 772.3 L145.7 770.5 Z" fill="#6c767b" stroke="#7f8a94" stroke-width="0.9" stroke-linejoin="round"/>
<path d="M153.1 763.5 L166.2 756.0 L166.2 763.0 L153.1 770.9 Z" fill="#cfd0d2" stroke="#7f8a94" stroke-width="0.9" stroke-linejoin="round"/>
<path d="M145.7 759.7 L157.3 751.3 L166.2 756.0 L153.1 763.5 Z" fill="#c9cacc" stroke="#7f8a94" stroke-width="0.9" stroke-linejoin="round"/>
<path d="M156.6 818.4 L166.2 823.2 L166.2 832.8 L156.6 828.0 Z" fill="#e4e4e6" stroke="#7f8a94" stroke-width="0.8" stroke-linejoin="round"/>
<path d="M166.2 823.2 L177.6 818.4 L177.6 826.8 L166.2 832.8 Z" fill="#d8d8da" stroke="#7f8a94" stroke-width="0.8" stroke-linejoin="round"/>
<path d="M156.6 818.4 L167.4 813.6 L177.6 818.4 L166.2 823.2 Z" fill="#ececee" stroke="#7f8a94" stroke-width="0.8" stroke-linejoin="round"/>
<path d="M162.6 786.6 L162.6 815.5 Q166.6 818.5 170.6 815.5 L170.6 786.6 Z" fill="#fff" stroke="#7f8a94" stroke-width=".9"/>
<ellipse cx="166.6" cy="786.6" rx="4" ry="2.600" fill="#fff" stroke="#7f8a94" stroke-width=".9"/>
<path d="M166.6 793.0 V814.0" stroke="#7f8a94" stroke-width=".7"/>
</g>
</g>
<!-- legend -->
<g id="legend" font-size="24.200">
  <circle cx="455.200" cy="881.200" r="25.700" fill="#646e73"/>
  <circle cx="455.200" cy="947.200" r="25.700" fill="#646e73"/>
  <circle cx="453.700" cy="1012.600" r="25.700" fill="#646e73"/>
  <text id="lgA" x="454.200" y="891.100" font-size="31" font-weight="bold" fill="#fff" text-anchor="middle">A</text>
  <text id="lgB" x="456.400" y="959.100" font-size="31" font-weight="bold" fill="#fff" text-anchor="middle">B</text>
  <text id="lgC" x="453" y="1024.500" font-size="31" font-weight="bold" fill="#fff" text-anchor="middle">C</text>
  <text id="lg1" x="487.400" y="888.900" font-size="24" font-weight="bold" fill="#6a747a">Do not touch</text>
  <text id="lg2" x="487.400" y="955.300" font-size="24" font-weight="bold" fill="#6a747a">Do not touch</text>
  <text id="lg3" x="487.500" y="1024.800" fill="#6a747a">TEST</text>
</g>
<!-- table -->
<g id="table">
  <rect x="242.200" y="1105.100" width="150.200" height="211" fill="#656f74"/>
  <rect x="396.200" y="1105.100" width="143.800" height="211" fill="#656f74"/>
  <rect x="392.400" y="1105.100" width="3.800" height="2.700" fill="#656f74"/>
  <g fill="none" stroke="#656f74" stroke-width="3.800">
    <path d="M244.100 1108.500 V1066 H676 V1314.200 H83 V1107 H676 M83 1314.200 H85"/>
    <path d="M394 1066 V1105.200 M538.200 1066 V1107"/>
    <path d="M83 1213.800 H244 M539.600 1213.800 H676"/>
  </g>
  <g font-weight="bold" text-anchor="middle" font-size="31">
    <text id="thA" x="317.500" y="1095.700" fill="#656f74">A</text>
    <text id="thB" x="465.400" y="1095.700" fill="#656f74">B</text>
    <text id="thC" x="600" y="1095.700" fill="#656f74">C</text>
    <g font-size="31.300" fill="#fff">
    <text id="dn1" x="317.800" y="1202.600">Do not</text>
    <text id="dn2" x="317" y="1239.900">touch</text>
    <text id="dn3" x="465.300" y="1202.600">Do not</text>
    <text id="dn4" x="464.600" y="1239.900">touch</text>
    </g>
    <text id="tt1" x="606" y="1171.700" fill="#14a0d9">TEST</text>
    <text id="tt2" x="609.400" y="1275" fill="#14a0d9">TEST</text>
  </g>
  <path d="M583.700 1238.500 L632.600 1287.700 M632.600 1238.500 L583.700 1287.700" stroke="#e31836" stroke-width="9.500" fill="none"/>
</g>
</svg>
</div>
</body>
</html>
